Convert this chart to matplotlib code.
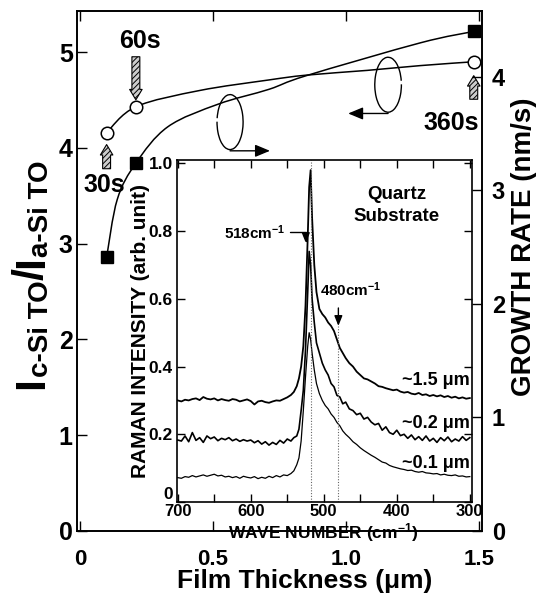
import numpy as np
import matplotlib
matplotlib.use('Agg')
import matplotlib.pyplot as plt
from matplotlib.patches import Arc, PathPatch
from matplotlib.path import Path

plt.rcParams['font.family'] = ['Liberation Sans', 'DejaVu Sans']
plt.rcParams['font.weight'] = 'bold'
plt.rcParams['mathtext.fontset'] = 'custom'
plt.rcParams['mathtext.rm'] = 'Liberation Sans:bold'
plt.rcParams['mathtext.it'] = 'Liberation Sans:bold'
plt.rcParams['mathtext.bf'] = 'Liberation Sans:bold'
plt.rcParams['hatch.color'] = '0.3'
plt.rcParams['hatch.linewidth'] = 0.7

# ---- main plot data ----
thick = [0.1, 0.21, 1.48]
ratio = [4.16, 4.43, 4.90]          # I c-Si TO / I a-Si TO (left axis)
rate = [2.41, 3.24, 4.40]           # growth rate nm/s (right axis)
dep_time = ['30s', '60s', '360s']

# guide curves
circ_fit_x = [0.1, 0.21, 0.45, 0.71, 0.85, 1.08, 1.28, 1.48]
circ_fit_y = [4.16, 4.43, 4.60, 4.71, 4.76, 4.81, 4.86, 4.90]
sq_fit_x = [0.1, 0.14, 0.21, 0.33, 0.52, 0.71, 0.85, 1.28, 1.48]
sq_fit_y = [2.41, 2.92, 3.24, 3.56, 3.76, 3.89, 4.01, 4.30, 4.40]

# ---- inset raman spectra ----
wn = [700, 695, 690, 685, 680, 675, 670, 665, 660, 655, 650, 645, 640, 635, 630, 625,
      620, 615, 610, 605, 600, 595, 590, 585, 580, 575, 570, 565, 560, 555, 550, 545,
      541, 537, 534, 531, 528, 525, 522, 520, 518, 516, 513, 510, 506, 502,
      498, 494, 490, 486, 482, 478, 474, 470,
      465, 460, 455, 450, 445, 440, 435, 430, 425, 420, 415, 410, 405, 400, 395, 390,
      385, 380, 375, 370, 365, 360, 355, 350, 345, 340, 335, 330, 325, 320, 315, 310,
      305, 300]
spec_15 = [.300, .297, .302, .300, .304, .306, .301, .310, .305, .303, .306, .300, .304, .301, .299, .304,
           .302, .297, .300, .303, .298, .288, .297, .299, .295, .293, .297, .300, .299, .304, .309, .316,
           .325, .342, .365, .40, .46, .58, .78, .93, .98, .84, .70, .62, .57, .555,
           .545, .53, .52, .505, .48, .455, .44, .425,
           .41, .40, .385, .375, .365, .362, .356, .35, .342, .340, .336, .333, .330, .332, .326, .323,
           .325, .320, .318, .322, .316, .318, .313, .316, .312, .315, .310, .313, .308, .311, .306, .309,
           .305, .307]
spec_02 = [.183, .180, .195, .178, .205, .182, .190, .176, .195, .187, .192, .181, .188, .184, .190, .181,
           .186, .179, .184, .180, .183, .175, .181, .171, .178, .168, .176, .170, .182, .174, .186, .180,
           .190, .195, .215, .27, .33, .45, .62, .74, .70, .60, .53, .47, .44, .41,
           .39, .375, .35, .34, .315, .31, .29, .295,
           .275, .27, .258, .262, .245, .25, .236, .228, .232, .212, .222, .205, .200, .212, .196, .20,
           .188, .198, .184, .193, .182, .195, .180, .188, .176, .190, .181, .192, .178, .186, .180, .193,
           .182, .190]
spec_01 = [.072, .070, .075, .073, .078, .074, .077, .080, .076, .079, .082, .077, .079, .074, .076, .072,
           .075, .070, .076, .073, .071, .075, .069, .073, .070, .076, .072, .078, .074, .080, .078, .084,
           .092, .11, .13, .18, .27, .37, .46, .50, .48, .44, .39, .35, .32, .30,
           .285, .275, .26, .25, .235, .225, .21, .20,
           .19, .178, .17, .16, .152, .145, .138, .132, .125, .118, .115, .108, .104, .101, .098, .096,
           .093, .094, .090, .088, .090, .086, .085, .083, .084, .080, .082, .079, .078, .080, .076, .077,
           .074, .075]
spec_names = ['~1.5 μm', '~0.2 μm', '~0.1 μm']
spec_label_y = [0.36, 0.233, 0.115]


def smooth_path(x, y):
    pts = np.column_stack([x, y])
    ext = np.vstack([pts[0], pts, pts[-1]])
    verts = [pts[0]]
    codes = [Path.MOVETO]
    for i in range(1, len(ext) - 2):
        p0, p1, p2, p3 = ext[i - 1], ext[i], ext[i + 1], ext[i + 2]
        verts += [p1 + (p2 - p0) / 6, p2 - (p3 - p1) / 6, p2]
        codes += [Path.CURVE4] * 3
    return Path(verts, codes)


W, H = 538, 595
fig = plt.figure(figsize=(W / 100, H / 100), dpi=100)

def fx(px):
    return px / W

def fy(py):
    return 1 - py / H

ax = fig.add_axes([fx(77), fy(531), fx(482) - fx(77), fy(11) - fy(531)])
ax2 = ax.twinx()

ax.set_xlim(-0.0113, 1.511)
ax.set_ylim(0, 5.43)
ax2.set_ylim(0, 4.58)

ax.add_patch(PathPatch(smooth_path(circ_fit_x, circ_fit_y), fill=False, lw=1.1, color='k'))
ax2.add_patch(PathPatch(smooth_path(sq_fit_x, sq_fit_y), fill=False, lw=1.1, color='k'))
ax.plot(thick, ratio, 'o', mfc='white', mec='k', ms=9, mew=1.1, zorder=5, clip_on=False)
ax2.plot(thick, rate, 's', color='k', ms=9, zorder=5, clip_on=False)

ax.set_xticks([0, 0.5, 1.0, 1.5])
ax.set_xticklabels(['0', '0.5', '1.0', '1.5'])
ax.set_yticks([0, 1, 2, 3, 4, 5])
ax2.set_yticks([0, 1, 2, 3, 4])
ax.tick_params(direction='in', length=7, width=1, top=True)
ax.tick_params(axis='x', pad=13, labelsize=16)
ax.tick_params(axis='y', pad=3, labelsize=18)
ax2.tick_params(axis='y', direction='in', length=7, width=1, pad=7, labelsize=17)
for a in (ax, ax2):
    for s in a.spines.values():
        s.set_linewidth(1.2)

# deposition time arrows (hatched)
arr_kw = dict(arrowstyle='simple,head_length=0.5,head_width=0.6,tail_width=0.38',
              fc='0.8', ec='k', lw=0.8, hatch='//////', mutation_scale=15, shrinkA=0)
arrow_off = [(0, -26, 8.6), (0, 36, 5), (0, -27, 10)]
text_off = [(-2, -38), (3, 47.5), (-16.5, -44)]
for xi, yi, lab, ao, to in zip(thick, ratio, dep_time, arrow_off, text_off):
    ax.annotate('', xy=(xi, yi), xytext=ao[:2], textcoords='offset points',
                arrowprops=dict(shrinkB=ao[2], **arr_kw), annotation_clip=False)
    ax.annotate(lab, xy=(xi, yi), xytext=to, textcoords='offset points',
                ha='center', va='center', fontsize=18, fontweight='bold', annotation_clip=False)

# axis-direction loops
ax.add_patch(Arc((0.564, 4.27), 0.098, 0.574, theta1=175, theta2=500, lw=1, color='k'))
ax.annotate('', xy=(0.714, 3.97), xytext=(0.564, 3.97),
            arrowprops=dict(arrowstyle='-|>,head_length=0.6,head_width=0.25', lw=1, color='k',
                            shrinkA=0, shrinkB=0, mutation_scale=15))
ax.add_patch(Arc((1.158, 4.66), 0.10, 0.574, theta1=40, theta2=365, lw=1, color='k'))
ax.annotate('', xy=(1.008, 4.36), xytext=(1.158, 4.36),
            arrowprops=dict(arrowstyle='-|>,head_length=0.6,head_width=0.25', lw=1, color='k',
                            shrinkA=0, shrinkB=0, mutation_scale=15))

# ---- inset ----
axi = fig.add_axes([fx(177), fy(502), fx(472) - fx(177), fy(160) - fy(502)])
axi.set_facecolor('white')
axi.set_xlim(701, 297)
axi.set_ylim(0, 1.01)
axi.plot(wn, spec_15, color='k', lw=1.3)
axi.plot(wn, spec_02, color='k', lw=1.2)
axi.plot(wn, spec_01, color='k', lw=0.9)
axi.vlines(518, 0, 1.01, colors='0.4', linestyles=(0, (1, 1.5)), lw=0.8)
axi.vlines(480, 0, 0.52, colors='0.4', linestyles=(0, (1, 1.5)), lw=0.8)
axi.set_xticks([700, 600, 500, 400, 300])
axi.set_xticks([650, 550, 450, 350], minor=True)
axi.set_yticks([0, 0.2, 0.4, 0.6, 0.8, 1.0])
axi.set_yticklabels(['0', '0.2', '0.4', '0.6', '0.8', '1.0'])
axi.tick_params(which='both', direction='in', top=True, right=True, length=6, width=1,
                labelsize=12.5, pad=3)
axi.tick_params(axis='x', pad=1.5, labelsize=12)
axi.get_yticklabels()[0].set_verticalalignment('bottom')
for s in axi.spines.values():
    s.set_linewidth(1.2)

for lab, yl in zip(spec_names, spec_label_y):
    axi.text(300, yl, lab, ha='right', va='center', fontsize=13, fontweight='bold')
axi.text(400, 0.907, 'Quartz', ha='center', va='center', fontsize=13.5, fontweight='bold')
axi.text(400, 0.842, 'Substrate', ha='center', va='center', fontsize=13.5, fontweight='bold')
axi.text(553, 0.794, '518cm$^{-1}$', ha='right', va='center', fontsize=11, fontweight='bold')
axi.annotate('', xy=(524.6, 0.765), xytext=(546.6, 0.797),
             arrowprops=dict(arrowstyle='-|>,head_length=0.5,head_width=0.2', lw=1, color='k',
                             shrinkA=0, shrinkB=0, mutation_scale=12,
                             connectionstyle='angle,angleA=0,angleB=90,rad=0'))
axi.text(463, 0.626, '480cm$^{-1}$', ha='center', va='center', fontsize=11, fontweight='bold')
axi.annotate('', xy=(480, 0.52), xytext=(480, 0.573),
             arrowprops=dict(arrowstyle='-|>,head_length=0.5,head_width=0.2', lw=1, color='k',
                             shrinkA=0, shrinkB=0, mutation_scale=12))

fig.text(fx(323), fy(533), 'WAVE NUMBER (cm$^{-1}$)', ha='center', va='center', fontsize=12.5,
         fontweight='bold')
fig.text(fx(140), fy(331), 'RAMAN INTENSITY (arb. unit)', rotation=90, ha='center', va='center',
         fontsize=15, fontweight='bold')

# ---- outer axis labels ----
fig.text(fx(305), fy(581), 'Film Thickness (μm)', ha='center', va='center', fontsize=19,
         fontweight='bold')
fig.text(fx(524), fy(247), 'GROWTH RATE (nm/s)', rotation=90, ha='center', va='center',
         fontsize=20, fontweight='bold')

renderer = fig.canvas.get_renderer()
pieces = [('I', 31, 43), ('c-Si TO', 20, 48), ('/', 31, 43), ('I', 31, 43), ('a-Si TO', 20, 48)]
ypos = H - 389
for txt, size, xb in pieces:
    t = fig.text(fx(xb), ypos / H, txt, rotation=90, rotation_mode='anchor', ha='left',
                 va='baseline', fontsize=size, fontweight='bold')
    bb = t.get_window_extent(renderer)
    ypos = bb.y1

fig.savefig('out.png', dpi=100)
